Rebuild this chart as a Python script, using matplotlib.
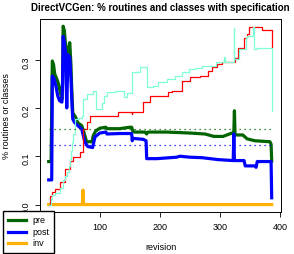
import matplotlib
matplotlib.use("Agg")
import matplotlib.pyplot as plt

plt.rcParams['font.family'] = ['Liberation Sans', 'DejaVu Sans']

# values (revision, share)
pre_rev = [15, 19, 20, 21, 23, 25, 30, 33, 37, 38, 39, 41, 43, 45, 47, 50, 52, 53, 55, 60,
           63, 70, 73, 78, 87, 89, 93, 100, 110, 112, 133, 150, 153, 155, 158, 175, 178,
           180, 212, 250, 275, 290, 305, 320, 323, 324, 325, 338, 345, 358, 383, 385, 386]
pre_val = [.089, .089, .20, .297, .29, .27, .255, .24, .218, .25, .369, .36, .33, .26, .32,
           .335, .29, .25, .19, .18, .17, .163, .152, .13, .13, .142, .152, .158, .16, .157,
           .157, .16, .16, .152, .15, .15, .146, .15, .15, .148, .146, .141, .141, .148,
           .148, .194, .144, .144, .136, .132, .13, .125, .09]

post_rev = [15, 20, 21, 24, 27, 30, 33, 37, 38, 39, 41, 43, 45, 47, 50, 52, 54, 55, 58, 62,
            70, 75, 80, 88, 92, 100, 110, 112, 133, 153, 154, 155, 172, 177, 178, 195, 228,
            233, 250, 270, 297, 322, 323, 324, 340, 342, 358, 360, 362, 385, 386]
post_val = [.051, .051, .266, .26, .245, .225, .215, .212, .25, .348, .335, .315, .2, .31,
            .305, .26, .2, .177, .17, .165, .156, .13, .12, .118, .14, .148, .15, .146, .147,
            .147, .132, .137, .135, .132, .095, .095, .098, .1, .098, .097, .093, .091, .146,
            .091, .091, .08, .08, .077, .089, .089, .014]

inv_rev = [15, 71, 72, 73, 386]
inv_val = [0, 0, .03, 0, 0]

red_rev = [15, 17, 20, 25, 33, 42, 50, 55, 67, 72, 78, 83, 130, 153, 154, 172, 183, 213,
           220, 237, 250, 267, 280, 287, 295, 303, 325, 330, 340, 345, 348, 370, 386]
red_val = [0, .018, .027, .033, .047, .074, .091, .099, .109, .156, .17, .183, .191, .187,
           .191, .212, .224, .232, .235, .255, .263, .266, .276, .284, .29, .296, .304, .325,
           .345, .352, .368, .362, .327]

aqua_rev = [15, 18, 20, 25, 33, 38, 42, 45, 48, 50, 52, 54, 56, 58, 65, 70, 72, 78, 88, 93,
            103, 107, 112, 125, 140, 145, 153, 167, 178, 188, 197, 212, 225, 237, 248, 258,
            270, 293, 307, 308, 323, 324, 331, 343, 345, 355, 357, 362, 386]
aqua_val = [0, .012, .02, .023, .035, .05, .06, .068, .08, .095, .11, .13, .146, .177, .18,
            .183, .218, .228, .235, .198, .21, .224, .232, .235, .222, .23, .274, .284, .243,
            .245, .253, .259, .266, .274, .28, .282, .286, .294, .306, .296, .366, .302, .321,
            .345, .348, .368, .321, .325, .193]

pre_mean = 0.157
post_mean = 0.123

fig = plt.figure(figsize=(2.94, 2.54), dpi=100)
ax = fig.add_axes([40 / 294, 42.3 / 254, 241 / 294, 192.7 / 254])

ax.plot(pre_rev, pre_val, color='#006400', lw=2.3, label='pre')
ax.plot(post_rev, post_val, color='#0000FF', lw=2.3, label='post')
ax.plot(inv_rev, inv_val, color='#FFB000', lw=2.3, label='inv')
ax.plot(red_rev, red_val, color='#FF0000', lw=0.9, drawstyle='steps-post')
ax.plot(aqua_rev, aqua_val, color='#7FFFD4', lw=0.9, drawstyle='steps-post')
ax.hlines(pre_mean, 15, 386, colors='#006400', linestyles=(0, (1, 3)), lw=0.9)
ax.hlines(post_mean, 15, 386, colors='#0000FF', linestyles=(0, (1, 3)), lw=0.9)

ax.set_xlim(0.5, 401.5)
ax.set_ylim(-0.0148, 0.384)
ax.set_xticks([100, 200, 300, 400])
ax.set_yticks([0.0, 0.1, 0.2, 0.3])
ax.set_yticklabels(['0.0', '0.1', '0.2', '0.3'])
ax.tick_params(labelsize=6.5, length=3.6, width=0.6, pad=3)
ax.tick_params(axis='x', pad=4.5)
ax.tick_params(axis='y', labelrotation=90)
for s in ax.spines.values():
    s.set_linewidth(0.7)

ax.set_title('DirectVCGen: % routines and classes with specification',
             fontsize=7, fontweight='bold', pad=6)
fig.text(0.5 * (40 + 281) / 294, (254 - 248) / 254, 'revision', fontsize=6.5,
         ha='center', va='center')
fig.text(7 / 294, 1 - 116 / 254, '% routines or classes', fontsize=6.5,
         rotation=90, ha='center', va='center')

ax.legend(loc='upper left', bbox_to_anchor=(3 / 294, 1 - 211 / 254),
          bbox_transform=fig.transFigure, fontsize=6.5, frameon=True, fancybox=False,
          edgecolor='black', framealpha=1, borderaxespad=0, handlelength=2.0,
          handletextpad=0.7, labelspacing=0.3, borderpad=0.55)

fig.savefig('out.png', dpi=100)
